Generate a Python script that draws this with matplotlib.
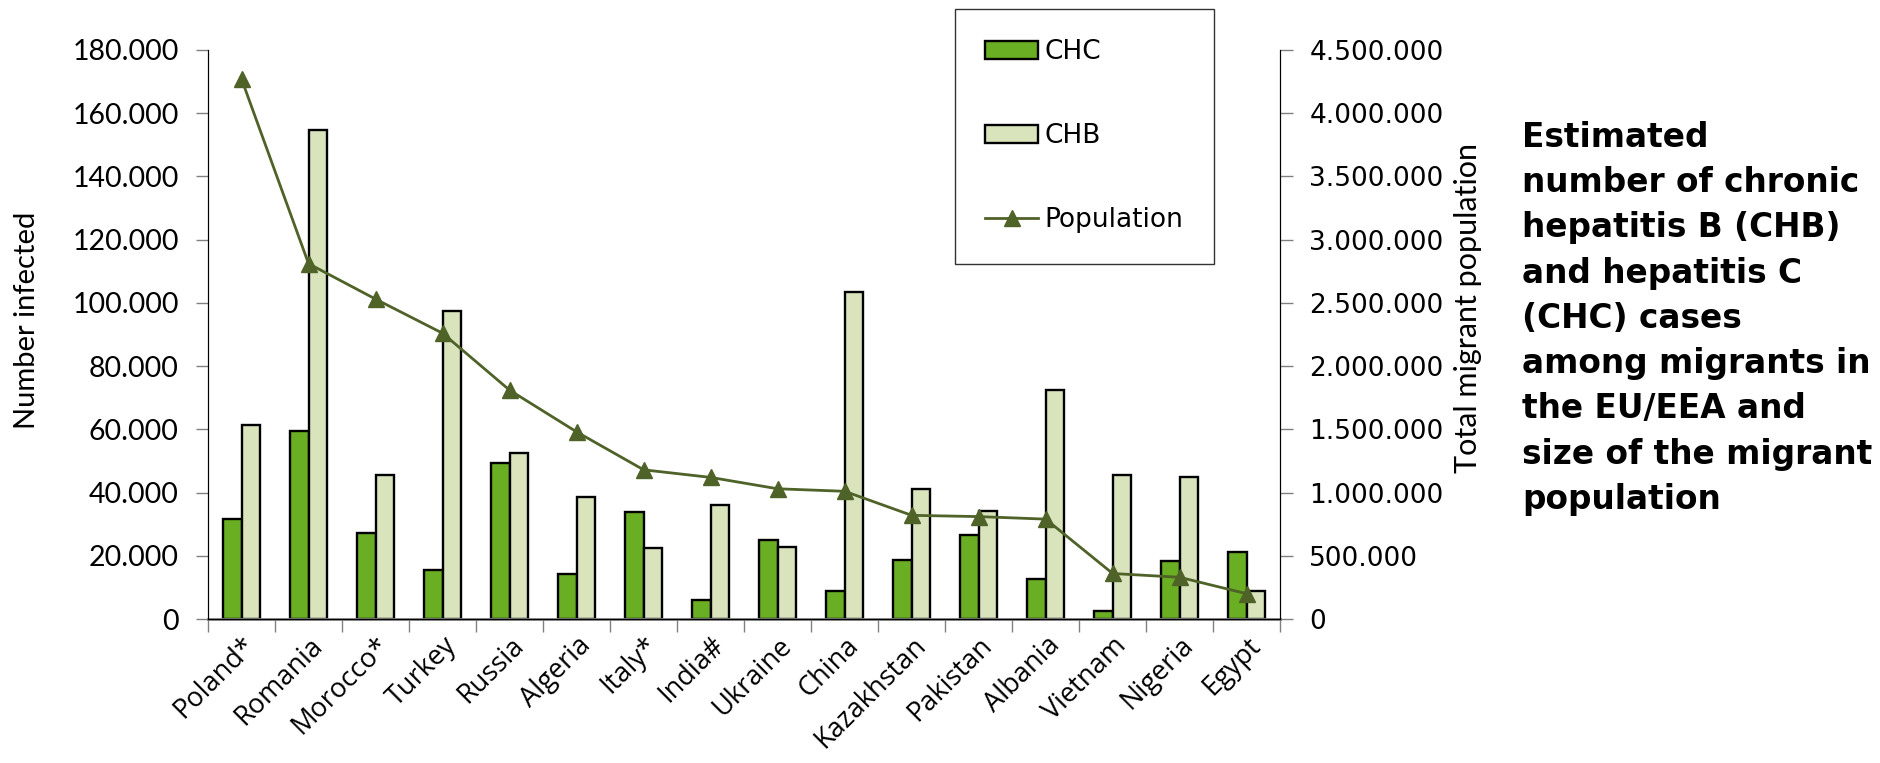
import numpy as np
from matplotlib import pyplot as plt
from matplotlib.ticker import FuncFormatter

countries = ['Poland*', 'Romania', 'Morocco*', 'Turkey', 'Russia', 'Algeria', 'Italy*', 'India#',
             'Ukraine', 'China', 'Kazakhstan', 'Pakistan', 'Albania', 'Vietnam', 'Nigeria', 'Egypt']
chc = [31500, 59400, 27300, 15600, 49200, 14100, 34000, 5900,
       24900, 8800, 18600, 26500, 12700, 2500, 18300, 21300]
chb = [61400, 154800, 45600, 97300, 52500, 38500, 22500, 36200,
       22700, 103600, 41000, 34200, 72500, 45600, 44800, 9000]
population = [4270000, 2810000, 2530000, 2260000, 1810000, 1480000, 1180000, 1120000,
              1030000, 1010000, 820000, 810000, 790000, 360000, 330000, 200000]

title = ('Estimated\nnumber of chronic\nhepatitis B (CHB)\nand hepatitis C\n(CHC) cases\n'
         'among migrants in\nthe EU/EEA and\nsize of the migrant\npopulation')

c_chc = '#6aae23'
c_chb = '#d9e4bd'
c_line = '#4f6228'

plt.rcParams['font.family'] = ['Lato', 'DejaVu Sans']

fig = plt.figure(figsize=(18.81, 7.63), dpi=100)
ax = fig.add_axes([0.1106, 0.1887, 0.570, 0.7458])
ax2 = ax.twinx()

x = np.arange(len(countries))
w = 0.28
b1 = ax.bar(x - w / 2, chc, w, color=c_chc, edgecolor='black', linewidth=1.7, label='CHC')
b2 = ax.bar(x + w / 2, chb, w, color=c_chb, edgecolor='black', linewidth=1.7, label='CHB')
ln, = ax2.plot(x, population, color=c_line, lw=2, marker='^', markersize=11, label='Population')

dots = FuncFormatter(lambda v, p: f'{int(v):,}'.replace(',', '.'))

ax.set_xlim(-0.5, len(countries) - 0.5)
ax.set_ylim(0, 180000)
ax.set_yticks(np.arange(0, 180001, 20000))
ax.yaxis.set_major_formatter(dots)
ax2.set_ylim(0, 4500000)
ax2.set_yticks(np.arange(0, 4500001, 500000))
ax2.yaxis.set_major_formatter(dots)

ax.set_xticks(x)
ax.set_xticklabels(countries, rotation=45, ha='right', rotation_mode='anchor',
                   fontsize=19.5, family=['Open Sans', 'DejaVu Sans'])
ax.set_xticks(np.arange(-0.5, len(countries), 1), minor=True)
ax.tick_params(axis='x', which='major', length=0, pad=9)
ax.tick_params(axis='x', which='minor', length=9, width=1, color='#808080', direction='out')
ax.tick_params(axis='y', labelsize=20.5, length=9, width=1, color='#808080', pad=12)
ax2.tick_params(axis='y', labelsize=19, length=9, width=1, color='#808080', pad=12)
for lab in ax2.get_yticklabels():
    lab.set_family('DejaVu Sans')

for a in (ax, ax2):
    a.spines['top'].set_visible(False)
ax.spines['left'].set_color('black')
ax2.spines['right'].set_color('black')
ax.spines['bottom'].set_color('#808080')
ax.spines['bottom'].set_linewidth(2)

ax.set_ylabel('Number infected', fontsize=21)
ax.yaxis.set_label_coords(-0.157, 0.525)
ax2.set_ylabel('Total migrant population', fontsize=22)
ax2.yaxis.set_label_coords(1.162, 0.546)

leg = fig.legend([b1, b2, ln], ['CHC', 'CHB', 'Population'], loc='upper left',
                 bbox_to_anchor=(955 / 1881, 1 - 9 / 763), frameon=True,
                 prop={'family': 'DejaVu Sans', 'size': 19},
                 fancybox=False, edgecolor='black', labelspacing=2.2, borderpad=1.15,
                 handlelength=2.0, handletextpad=0.25, borderaxespad=0)
leg.get_frame().set_linewidth(1)

fig.text(1522 / 1881, 1 - 121 / 763, title, fontsize=23.6, fontweight='bold',
         family='DejaVu Sans', va='top', ha='left', linespacing=1.47)

fig.savefig('out.png', dpi=100)
